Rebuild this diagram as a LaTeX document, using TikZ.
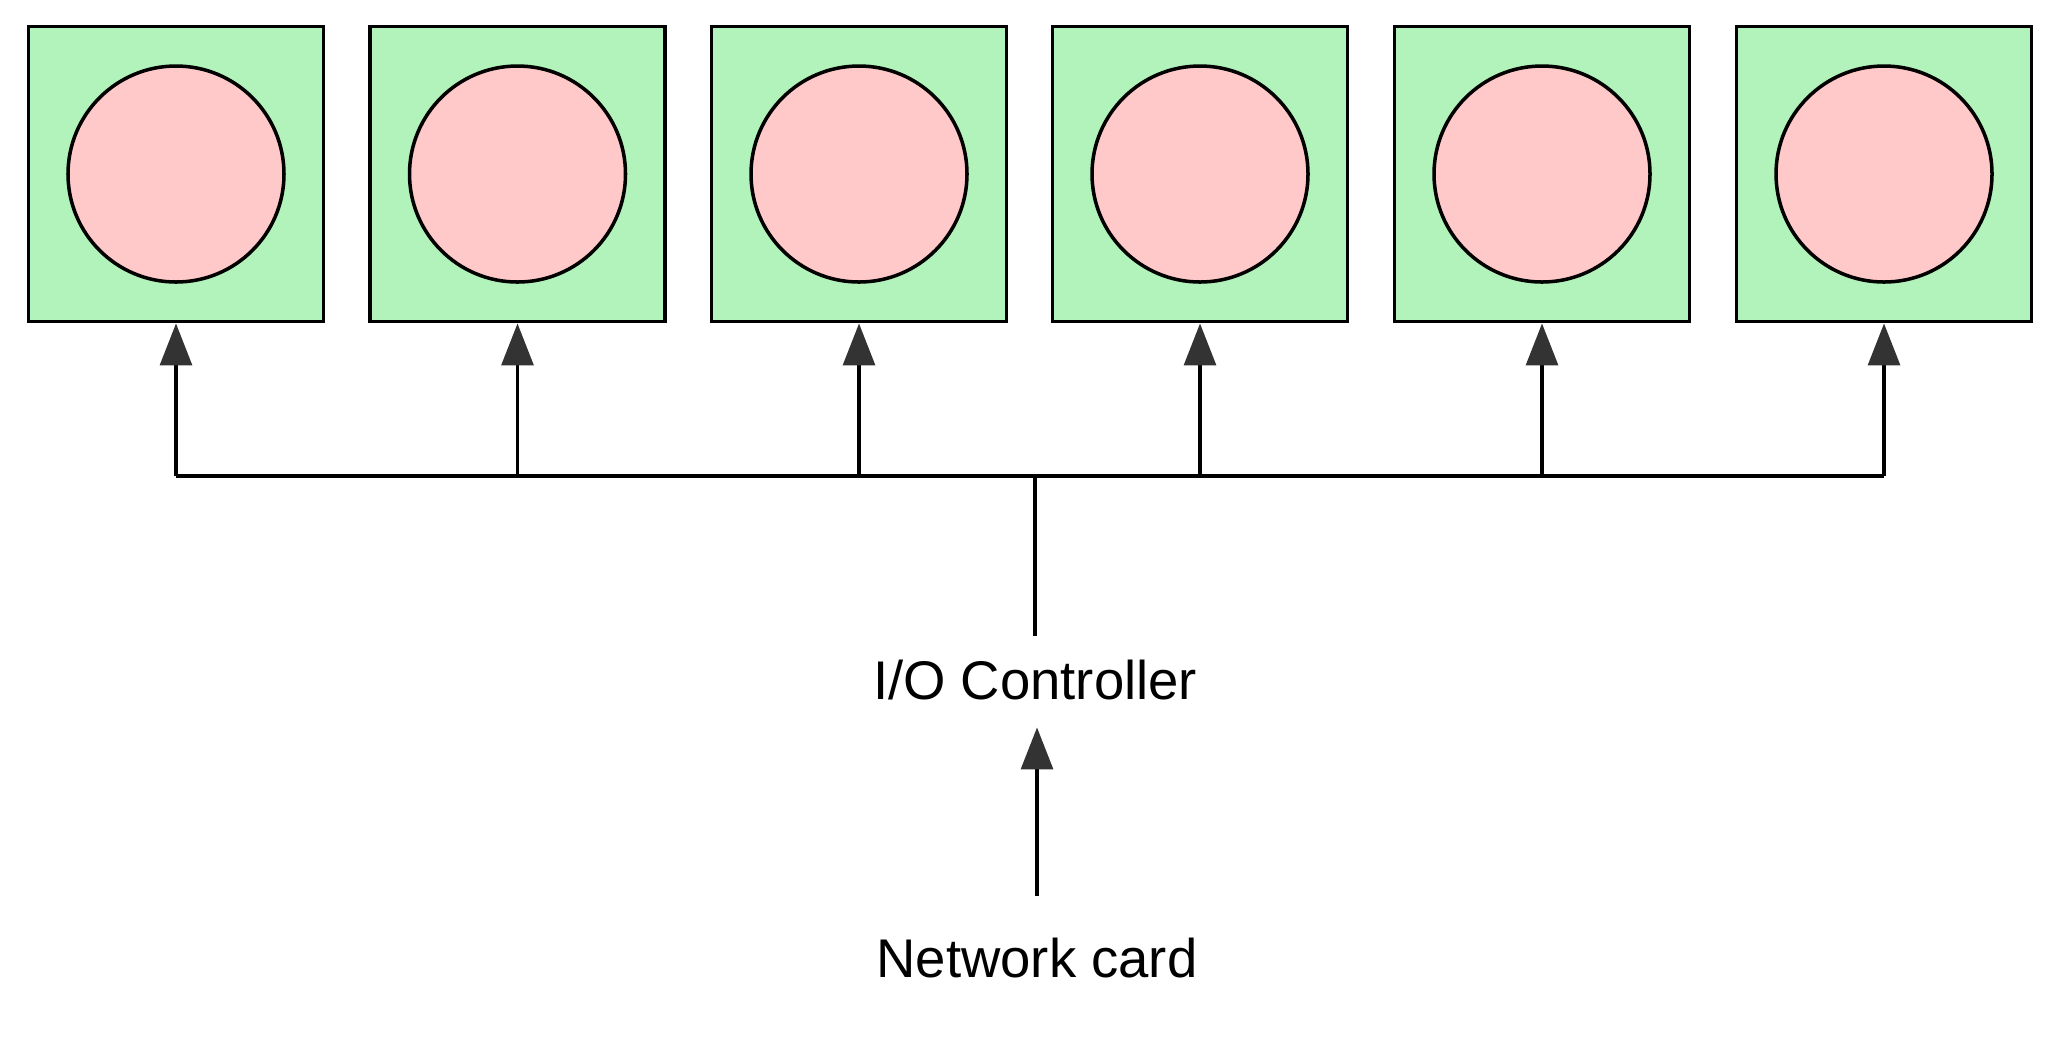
\documentclass[tikz,border=0pt]{standalone}
\usepackage{fontspec}
\setmainfont{Liberation Sans}
\usetikzlibrary{arrows.meta}
\definecolor{boxgreen}{HTML}{B2F2BB}
\definecolor{diskpink}{HTML}{FFC9C9}
\definecolor{headgray}{HTML}{333333}
\begin{document}
\begin{tikzpicture}[
        every node/.style={font=\fontsize{15.5}{18}\selectfont},
        core/.style={
            draw,
            fill=boxgreen,
            line width=1.1pt,
            minimum width=2.95cm,
            minimum height=2.95cm,
            inner sep=0pt
        },
        disk/.style={
            draw,
            circle,
            fill=diskpink,
            line width=1.0pt,
            minimum size=2.16cm,
            inner sep=0pt
        },
        arrow/.style={-{Triangle[length=0.42cm,width=0.32cm,color=headgray]}, line width=0.9pt},
        wire/.style={line width=0.9pt}
    ]

    \useasboundingbox (0,0) rectangle (20.62,-10.38);

    % Cores
    \node[core] (core1) at (1.76,-1.74) {};
    \node[core] (core2) at (5.175,-1.74) {};
    \node[core] (core3) at (8.59,-1.74) {};
    \node[core] (core4) at (12.00,-1.74) {};
    \node[core] (core5) at (15.42,-1.74) {};
    \node[core] (core6) at (18.84,-1.74) {};

    % Disks inside the cores
    \node[disk] (disk1) at (core1.center) {};
    \node[disk] (disk2) at (core2.center) {};
    \node[disk] (disk3) at (core3.center) {};
    \node[disk] (disk4) at (core4.center) {};
    \node[disk] (disk5) at (core5.center) {};
    \node[disk] (disk6) at (core6.center) {};

    % Controller and card
    \node (ioc) at (10.35,-6.80) {I/O Controller};
    \node (nic) at (10.37,-9.58) {Network card};

    % Bus
    \coordinate (bus) at (10.35,-4.76);
    \draw[wire] (core1.south |- bus) -- (core6.south |- bus);
    \draw[wire, shorten >=0.12cm] (bus) -- (ioc.north);

    % Branches up to the cores
    \draw[arrow] (core1.south |- bus) -- (core1.south);
    \draw[arrow] (core2.south |- bus) -- (core2.south);
    \draw[arrow] (core3.south |- bus) -- (core3.south);
    \draw[arrow] (core4.south |- bus) -- (core4.south);
    \draw[arrow] (core5.south |- bus) -- (core5.south);
    \draw[arrow] (core6.south |- bus) -- (core6.south);

    % Card to controller
    \draw[arrow, shorten <=0.3cm, shorten >=0.15cm] (nic.north) -- (ioc.south -| nic.north);

    \end{tikzpicture}
\end{document}
